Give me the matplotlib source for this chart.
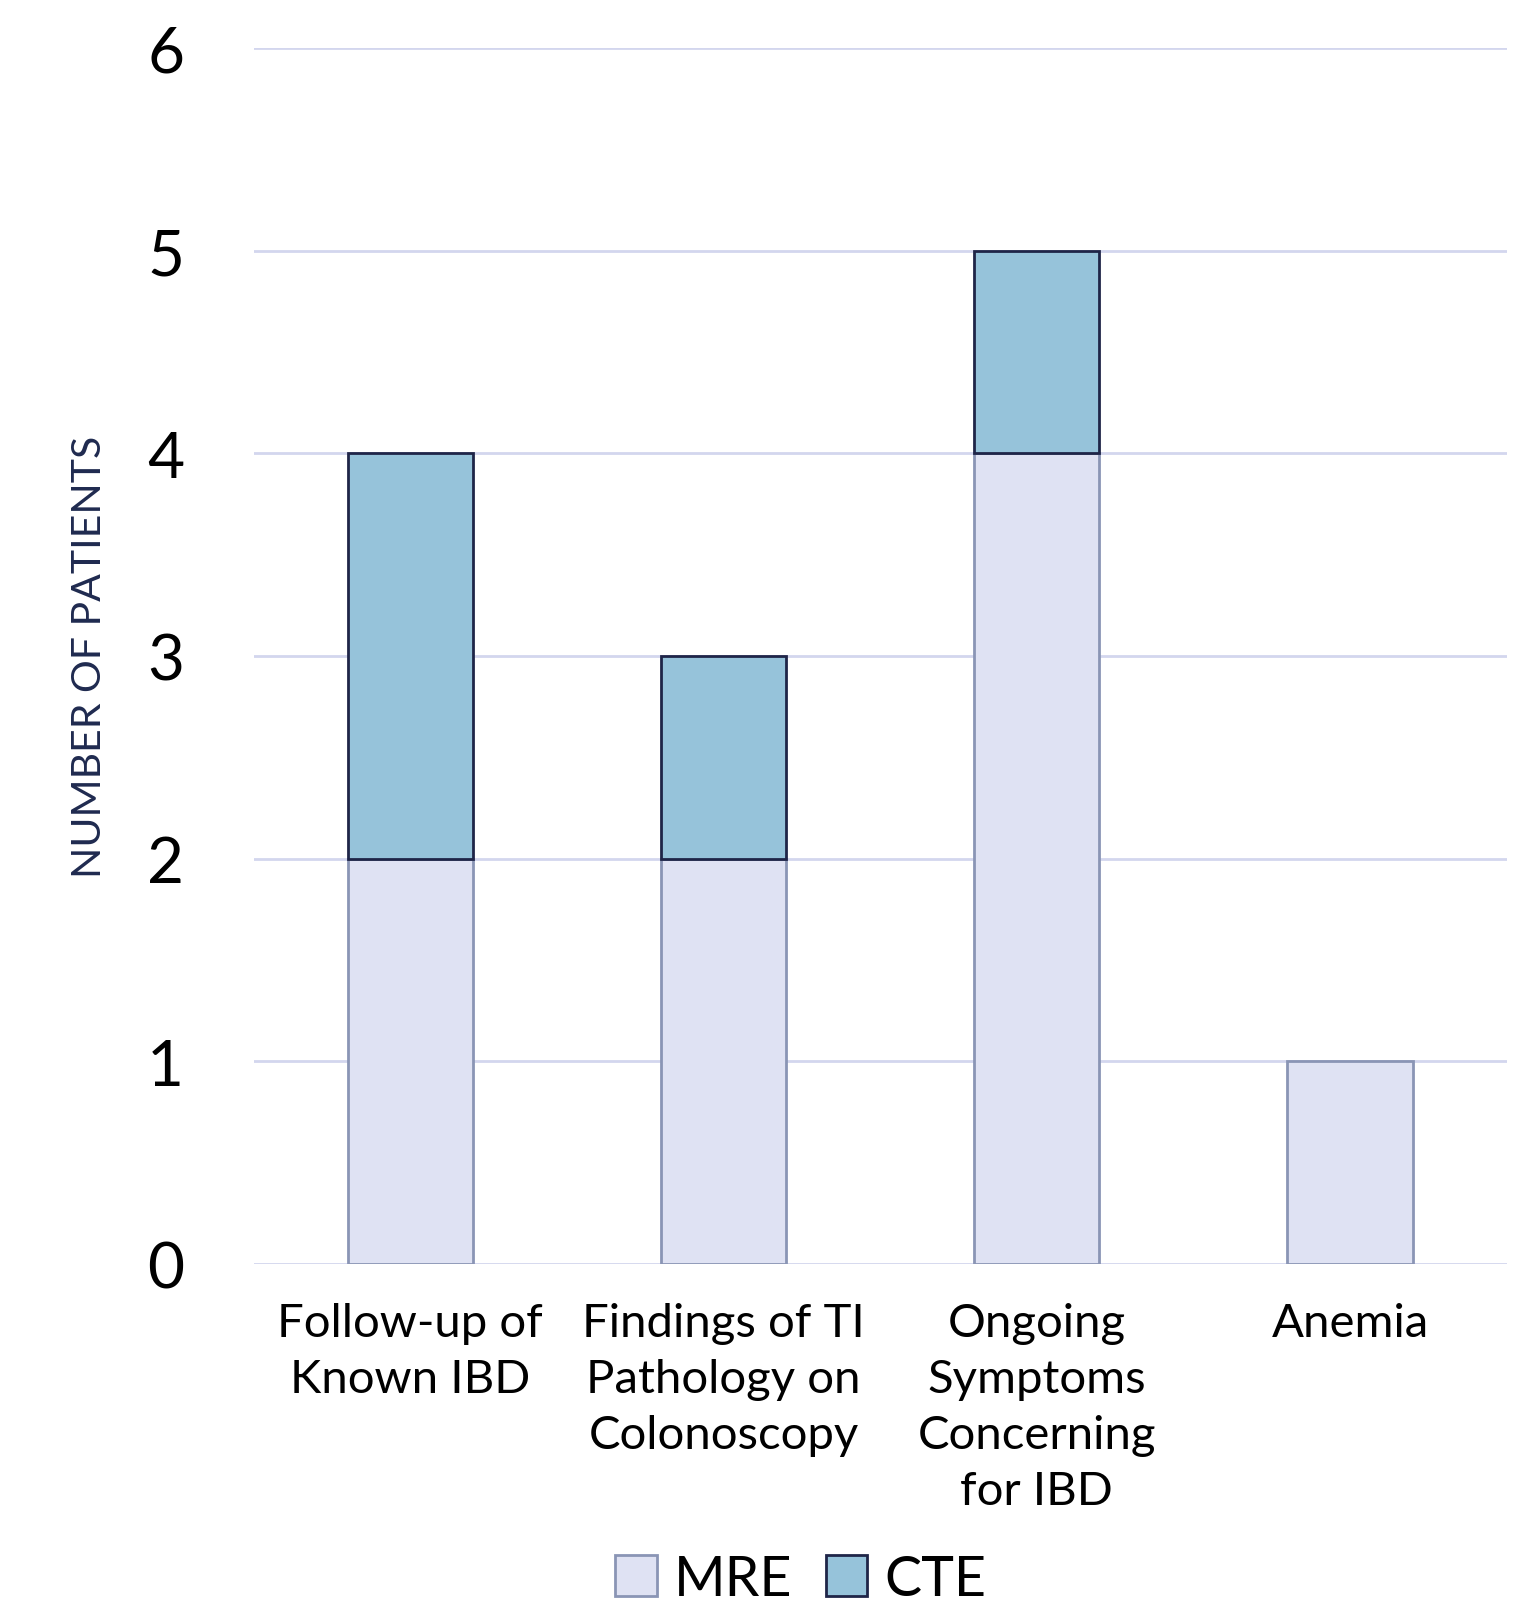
import matplotlib
matplotlib.use("Agg")
import matplotlib.pyplot as plt
from matplotlib.patches import Patch

categories = ["Follow-up of\nKnown IBD", "Findings of TI\nPathology on\nColonoscopy",
              "Ongoing\nSymptoms\nConcerning\nfor IBD", "Anemia"]
mre = [2, 2, 4, 1]
cte = [2, 1, 1, 0]
yticks = [0, 1, 2, 3, 4, 5, 6]

plt.rcParams['font.family'] = ['Lato', 'DejaVu Sans']

fig = plt.figure(figsize=(15.28, 16.06), dpi=100)
ax = fig.add_axes([0.166, 0.2123, 0.820, 0.7572])

x = list(range(len(categories)))
w = 0.40
ax.bar(x, mre, width=w, color="#dfe2f3", edgecolor="#8a95b5", linewidth=2, zorder=3, label="MRE")
# CTE segments only where there are CTE patients
cx = [xi for xi, c in zip(x, cte) if c > 0]
ch = [c for c in cte if c > 0]
cb = [m for m, c in zip(mre, cte) if c > 0]
ax.bar(cx, ch, width=w, bottom=cb, color="#96c3da", edgecolor="#1f2548", linewidth=2, zorder=3, label="CTE")

ax.set_xlim(-0.5, 3.5)
ax.set_ylim(0, 6)
ax.set_yticks(yticks)
ax.set_yticklabels([str(t) for t in yticks], fontsize=46)
ax.set_xticks(x)
ax.set_xticklabels(categories, fontsize=34, linespacing=1.42)
ax.tick_params(axis='y', length=0, pad=50)
ax.tick_params(axis='x', length=0, pad=27)
ax.grid(axis='y', color="#d3d6ee", linewidth=2, zorder=0)
for s in ax.spines.values():
    s.set_visible(False)

ax.set_ylabel("NUMBER OF PATIENTS", fontsize=29.5, color="#1f2a4f", labelpad=28)

handles = [Patch(facecolor="#dfe2f3", edgecolor="#8a95b5", linewidth=2, label="MRE"),
           Patch(facecolor="#96c3da", edgecolor="#1f2548", linewidth=2, label="CTE")]
fig.legend(handles=handles, loc="lower center", bbox_to_anchor=(0.524, -0.031), ncol=2,
           frameon=False, fontsize=40, handlelength=0.75, handleheight=0.75,
           handletextpad=0.3, columnspacing=0.6)

fig.savefig("out.png", dpi=100, facecolor="white")
